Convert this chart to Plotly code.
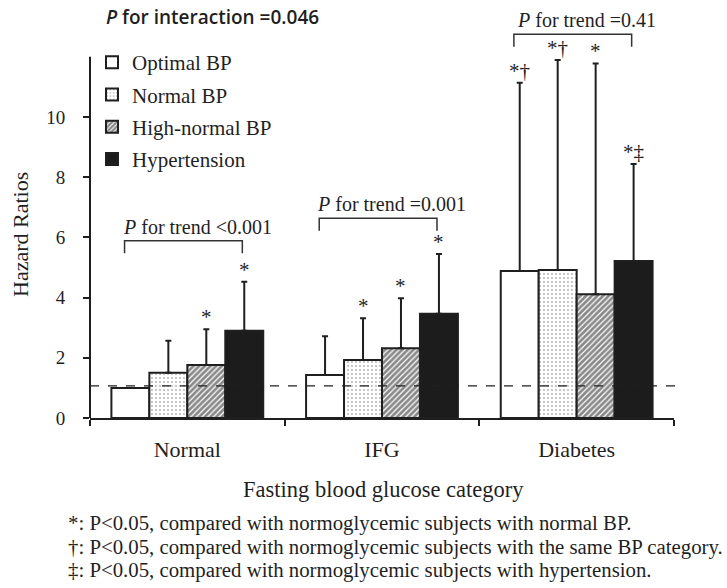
import plotly.graph_objects as go

# ---------------- data ----------------
categories = ["Normal", "IFG", "Diabetes"]
series_names = ["Optimal BP", "Normal BP", "High-normal BP", "Hypertension"]

hr_optimal = [1.00, 1.43, 4.88]
hr_normal = [1.50, 1.93, 4.92]
hr_highnormal = [1.76, 2.32, 4.11]
hr_hypertension = [2.90, 3.46, 5.22]

upper_optimal = [None, 2.72, 11.14]
upper_normal = [2.57, 3.31, 11.89]
upper_highnormal = [2.95, 3.98, 11.78]
upper_hypertension = [4.53, 5.45, 8.44]

sig_optimal = ["", "", "*†"]
sig_normal = ["", "*", "*†"]
sig_highnormal = ["*", "*", "*"]
sig_hypertension = ["*", "*", "*‡"]

trend_labels = ["<i>P</i> for trend <0.001", "<i>P</i> for trend =0.001", "<i>P</i> for trend =0.41"]
trend_bracket_y = [5.89, 6.64, 12.75]
interaction_label = "<i>P</i> for interaction =0.046"
REF_LINE = 1.07
AXIS_TOP = 12
y_ticks = [0, 2, 4, 6, 8, 10]

footnotes = [
    "*: P<0.05, compared with normoglycemic subjects with normal BP.",
    "†: P<0.05, compared with normoglycemic subjects with the same BP category.",
    "‡: P<0.05, compared with normoglycemic subjects with hypertension.",
]

# ---------------- layout constants ----------------
W, H = 727, 588
ML, MR, MT, MB = 90, 53, 0, 170
PW, PH = W - ML - MR, H - MT - MB
Y_MAX = 13.887
BARGAP = 0.22
SERIF = "Liberation Serif, Times New Roman, serif"
INK = "#1f1f1f"


def px_x(px):
    return (px - ML) / PW


def px_y(py):
    return (H - MB - py) / PH


values = [hr_optimal, hr_normal, hr_highnormal, hr_hypertension]
uppers = [upper_optimal, upper_normal, upper_highnormal, upper_hypertension]
sigs = [sig_optimal, sig_normal, sig_highnormal, sig_hypertension]

styles = [
    dict(color="white", pattern=None),
    dict(color="white", pattern=dict(shape=".", fgcolor="#666", bgcolor="white", size=4, solidity=0.18)),
    dict(color="white", pattern=dict(shape="/", fgcolor="#111", bgcolor="white", size=4, solidity=0.7)),
    dict(color="#1c1c1c", pattern=None),
]

fig = go.Figure()
for i, (name, vals, ups, st) in enumerate(zip(series_names, values, uppers, styles)):
    plus = [None if u is None else u - v for u, v in zip(ups, vals)]
    marker = dict(color=st["color"], line=dict(color=INK, width=2))
    if st["pattern"]:
        marker["pattern"] = st["pattern"]
    fig.add_trace(go.Bar(
        x=categories, y=vals, name=name, marker=marker, legendgroup=name,
        error_y=dict(type="data", symmetric=False, array=plus, arrayminus=[0] * len(vals),
                     color=INK, thickness=2, width=3),
    ))

bar_w = (1 - BARGAP) / len(series_names)
offsets = [(i - (len(series_names) - 1) / 2) * bar_w for i in range(len(series_names))]

annotations = []
# significance markers
for i in range(len(series_names)):
    for j in range(len(categories)):
        lab = sigs[i][j]
        if not lab:
            continue
        annotations.append(dict(
            x=j + offsets[i], y=uppers[i][j], xref="x", yref="y", text=lab,
            showarrow=False, yanchor="bottom", yshift=-2,
            font=dict(family=SERIF, size=21, color=INK)))

shapes = []
# trend brackets
for j in range(len(categories)):
    x0 = j + offsets[0] - 0.03
    x1 = j + offsets[-1] - 0.01
    yb = trend_bracket_y[j]
    drop = 0.42
    shapes.append(dict(type="path", xref="x", yref="y",
                       path=f"M {x0},{yb - drop} L {x0},{yb} L {x1},{yb} L {x1},{yb - drop}",
                       line=dict(color="#333", width=1.5)))
    annotations.append(dict(x=j + 0.05, y=yb, xref="x", yref="y", text=trend_labels[j],
                            showarrow=False, yanchor="bottom", yshift=1,
                            font=dict(family=SERIF, size=20, color=INK)))

# reference dashed line
shapes.append(dict(type="line", xref="paper", yref="y", x0=0, x1=1.007, y0=REF_LINE, y1=REF_LINE,
                   line=dict(color=INK, width=1.3, dash="dash")))
# y axis line up to AXIS_TOP
shapes.append(dict(type="line", xref="paper", yref="y", x0=0, x1=0, y0=0, y1=AXIS_TOP,
                   line=dict(color=INK, width=2)))

# interaction label
annotations.append(dict(x=px_x(104), y=px_y(17), xref="paper", yref="paper", text=interaction_label,
                        showarrow=False, xanchor="left", yanchor="middle",
                        font=dict(family="Open Sans, Liberation Sans, sans-serif", size=19,
                                  color=INK, weight=600)))
# axis titles
annotations.append(dict(x=px_x(20), y=px_y(235), xref="paper", yref="paper", text="Hazard Ratios",
                        showarrow=False, textangle=-90, xanchor="center", yanchor="middle",
                        font=dict(family=SERIF, size=22, color=INK)))
annotations.append(dict(x=px_x(383), y=px_y(489), xref="paper", yref="paper",
                        text="Fasting blood glucose category",
                        showarrow=False, xanchor="center", yanchor="middle",
                        font=dict(family=SERIF, size=22.5, color=INK)))
# footnotes
for k, (t, py) in enumerate(zip(footnotes, [523, 547, 570])):
    annotations.append(dict(x=px_x(66), y=px_y(py), xref="paper", yref="paper", text=t,
                            showarrow=False, xanchor="left", yanchor="middle",
                            font=dict(family=SERIF, size=20.8, color=INK)))

fig.update_layout(
    width=W, height=H, margin=dict(l=ML, r=MR, t=MT, b=MB, pad=0),
    paper_bgcolor="white", plot_bgcolor="white",
    barmode="group", bargap=BARGAP, bargroupgap=0,
    showlegend=True,
    legend=dict(x=px_x(92), y=px_y(42), xanchor="left", yanchor="top",
                bgcolor="rgba(0,0,0,0)", borderwidth=0, traceorder="grouped",
                tracegroupgap=2, itemwidth=30,
                font=dict(family=SERIF, size=21, color=INK)),
    xaxis=dict(showline=True, linecolor=INK, linewidth=2, ticks="outside", tickson="boundaries",
               ticklen=6, tickwidth=2, tickcolor=INK, showgrid=False, zeroline=False,
               ticklabelstandoff=11,
               tickfont=dict(family=SERIF, size=22, color=INK)),
    yaxis=dict(range=[0, Y_MAX], showline=False, ticks="outside", tickvals=y_ticks,
               ticklen=6, tickwidth=2, tickcolor=INK, showgrid=False, zeroline=False,
               ticklabelstandoff=14,
               tickfont=dict(family=SERIF, size=19, color=INK)),
    shapes=shapes, annotations=annotations,
)

fig.write_html("out.html", config={"displayModeBar": False},
               post_script="document.body.style.margin='0';")
